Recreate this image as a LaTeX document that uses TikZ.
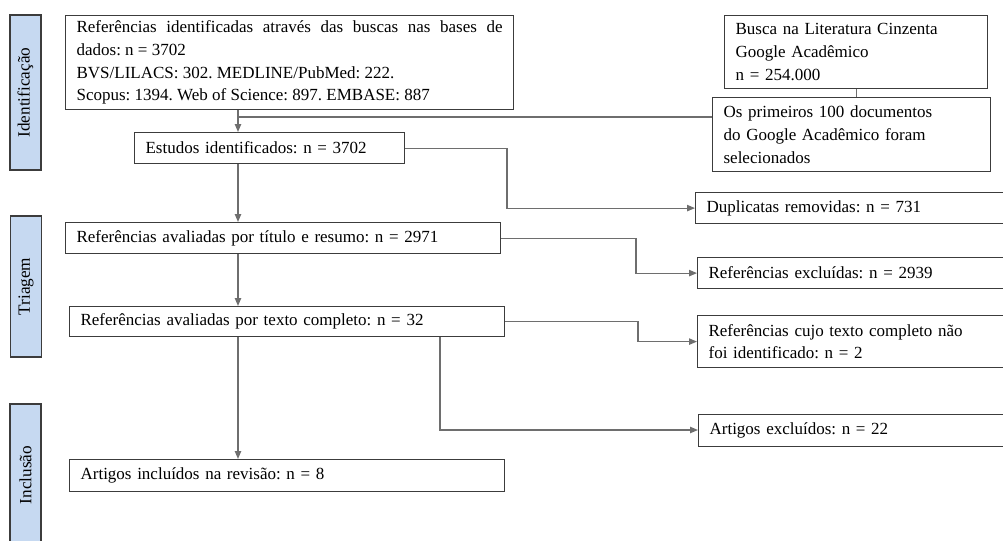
\documentclass[tikz,border=0pt]{standalone}
\usepackage{fontspec}
\setmainfont{Liberation Serif}
\frenchspacing
\usetikzlibrary{arrows.meta, positioning, calc}
\definecolor{cfase}{HTML}{C6D9F1}
\definecolor{clinha}{HTML}{6E6E6E}
\definecolor{cborda}{HTML}{3C3C3C}
\tikzset{
  every picture/.style={line width=0.6pt},
  caixa/.style={draw=cborda, align=left, anchor=north west, inner xsep=5.5pt, inner ysep=1.5pt,
    font=\fontsize{8.5}{11.4}\selectfont},
  fase/.style={draw=cborda, fill=cfase, rotate=90, inner sep=0pt, minimum height=15.5pt,
    font=\fontsize{8.6}{10}\selectfont},
  seta/.style={draw=clinha, -{Triangle[length=4pt, width=3.2pt]}},
  linha/.style={draw=clinha},
}

\begin{document}
\begin{tikzpicture}[x=0.5pt, y=-0.5pt]
  \useasboundingbox (0,0) rectangle (1003,541);
  \clip (0,0) rectangle (1003,541);

  % fases
  \node[fase, minimum width=77.5pt] (ident) at (25.5,92.5) {Identificação};
  \node[fase, minimum width=70.5pt] (triagem) at (26,286.5) {Triagem};
  \node[fase, minimum width=71pt] (inclusao) at (25.5,475) {Inclusão};

  % caixas
  \node[caixa, align=justify, text width=213pt, minimum height=47pt] (ref) at (65,15)
    {Referências identificadas através das buscas nas bases de\linebreak dados: n = 3702\\
     BVS/LILACS: 302. MEDLINE/PubMed: 222.\\ Scopus: 1394. Web of Science: 897. EMBASE: 887};
  \node[caixa, text width=120.5pt, minimum height=36.5pt] (busca) at (724,15)
    {Busca na Literatura Cinzenta\\ Google Acadêmico\\ n = 254.000};
  \node[caixa, text width=128pt, minimum height=37pt] (primeiros) at (712,97)
    {Os primeiros 100 documentos\\ do Google Acadêmico foram\\ selecionados};
  \node[caixa, text width=124pt, minimum height=15.5pt] (estudos) at (134,132)
    {Estudos identificados: n = 3702};
  \node[caixa, text width=146.5pt, minimum height=15.5pt] (dup) at (695,192)
    {Duplicatas removidas: n = 731};
  \node[caixa, text width=206.5pt, minimum height=15.5pt] (titulo) at (65,222)
    {Referências avaliadas por título e resumo: n = 2971};
  \node[caixa, text width=145.5pt, minimum height=15.5pt] (excl) at (697,257)
    {Referências excluídas: n = 2939};
  \node[caixa, text width=206.5pt, minimum height=15pt] (texto) at (69,306)
    {Referências avaliadas por texto completo: n = 32};
  \node[caixa, text width=145.5pt, minimum height=26pt] (cujo) at (697,315)
    {Referências cujo texto completo não\\ foi identificado: n = 2};
  \node[caixa, text width=145pt, minimum height=16pt] (artexcl) at (698,414)
    {Artigos excluídos: n = 22};
  \node[caixa, text width=206.5pt, minimum height=16pt] (incl) at (69,459)
    {Artigos incluídos na revisão: n = 8};

  % pontos de dobra
  \coordinate (eixo) at (238,117);
  \coordinate (d1) at (507,0);
  \coordinate (d2) at (636,0);
  \coordinate (d3) at (638,0);
  \coordinate (d4) at (440,430);

  % conectores
  \draw[seta] (ref.south -| eixo) -- (estudos.north -| eixo);
  \draw[linha] (busca.south) -- (busca.south |- primeiros.north);
  \draw[linha] (primeiros.west |- eixo) -- (eixo);
  \draw[seta] (estudos.east) -- (estudos.east -| d1) |- (dup.west);
  \draw[seta] (estudos.south -| eixo) -- (titulo.north -| eixo);
  \draw[seta] (titulo.east) -- (titulo.east -| d2) |- (excl.west);
  \draw[seta] (titulo.south -| eixo) -- (texto.north -| eixo);
  \draw[seta] (texto.east) -- (texto.east -| d3) |- (cujo.west);
  \draw[seta] (texto.south -| d4) -- (d4) -- (artexcl.west |- d4);
  \draw[seta] (texto.south -| eixo) -- (incl.north -| eixo);
\end{tikzpicture}
\end{document}
